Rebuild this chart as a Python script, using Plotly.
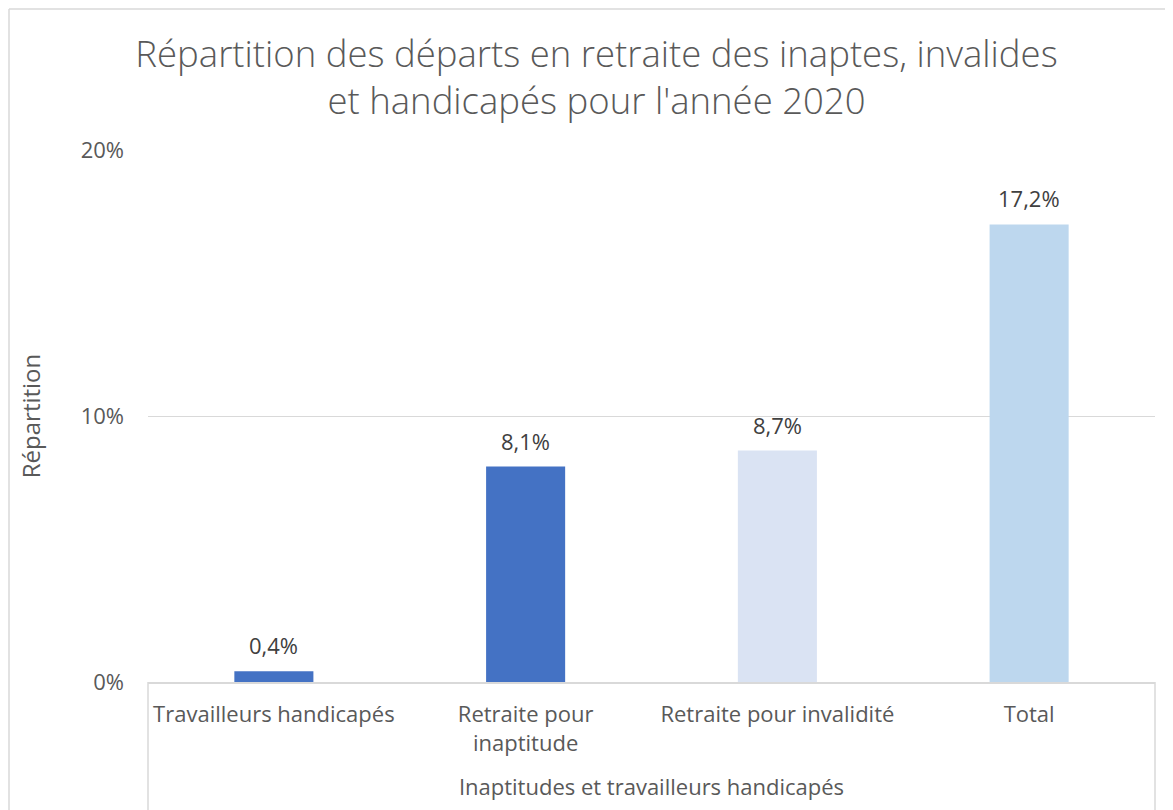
import plotly.graph_objects as go

categories = ["Travailleurs handicapés", "Retraite pour<br>inaptitude", "Retraite pour invalidité", "Total"]
values = [0.4, 8.1, 8.7, 17.2]
labels = ["0,4%", "8,1%", "8,7%", "17,2%"]
colors = ["#4472C4", "#4472C4", "#DAE3F3", "#BDD7EE"]
y_ticks = [0, 10, 20]
y_ticktext = ["0%", "10%", "20%"]

OFF = 8  # default page body margin
W, H = 1173 - OFF, 810 - OFF
L, R, T, B = 148 - OFF, 1155 - OFF, 150 - OFF, 682 - OFF
pw, ph = R - L, B - T

def px(x):
    return (x - OFF - L) / pw

def py(y):
    return (B - (y - OFF)) / ph

FONT = "Open Sans"
fig = go.Figure()
fig.add_trace(go.Bar(
    x=categories, y=values, marker=dict(color=colors, line=dict(width=0)),
    hoverinfo="x+y",
))
for c, v, t in zip(categories, values, labels):
    fig.add_annotation(x=c, y=v, text=t, showarrow=False, yanchor="bottom",
                       yshift=9, font=dict(family=FONT, size=22, color="#404040"))

fig.update_layout(
    width=W, height=H,
    margin=dict(l=L, r=W - R, t=T, b=H - B, autoexpand=False),
    paper_bgcolor="white", plot_bgcolor="white",
    bargap=0.686,
    showlegend=False,
    title=dict(
        text="Répartition des départs en retraite des inaptes, invalides<br>et handicapés pour l'année 2020",
        x=(596.5 - OFF) / W, xanchor="center", y=1 - (67 - OFF) / H, yanchor="middle",
        font=dict(family=FONT, size=36.5, color="#595959", weight=300),
    ),
    font=dict(family=FONT, color="#595959"),
)
fig.update_xaxes(
    showline=True, linecolor="#D9D9D9", linewidth=2,
    ticks="", tickfont=dict(family=FONT, size=22, color="#595959"),
    ticklabelstandoff=12,
    title=dict(text="Inaptitudes et travailleurs handicapés", standoff=24,
               font=dict(family=FONT, size=22, color="#595959")),
)
fig.update_yaxes(
    range=[0, 20], tickvals=y_ticks, ticktext=y_ticktext,
    showgrid=True, gridcolor="#D9D9D9", gridwidth=1,
    zeroline=False, showline=False, ticks="",
    ticklabelstandoff=23,
    tickfont=dict(family=FONT, size=22, color="#595959"),
    title=dict(text="Répartition", standoff=33,
               font=dict(family=FONT, size=24, color="#595959")),
)

# x-axis box sides and outer chart frame
line_style = dict(color="#D9D9D9", width=1.5)
for xx in (148, 1155):
    fig.add_shape(type="line", xref="paper", yref="paper",
                  x0=px(xx), x1=px(xx), y0=0, y1=py(815), line=line_style)
fig.add_shape(type="line", xref="paper", yref="paper",
              x0=px(9), x1=px(1180), y0=py(9), y1=py(9), line=line_style)
fig.add_shape(type="line", xref="paper", yref="paper",
              x0=px(9), x1=px(9), y0=py(9), y1=py(815), line=line_style)

fig.write_html("out.html")
